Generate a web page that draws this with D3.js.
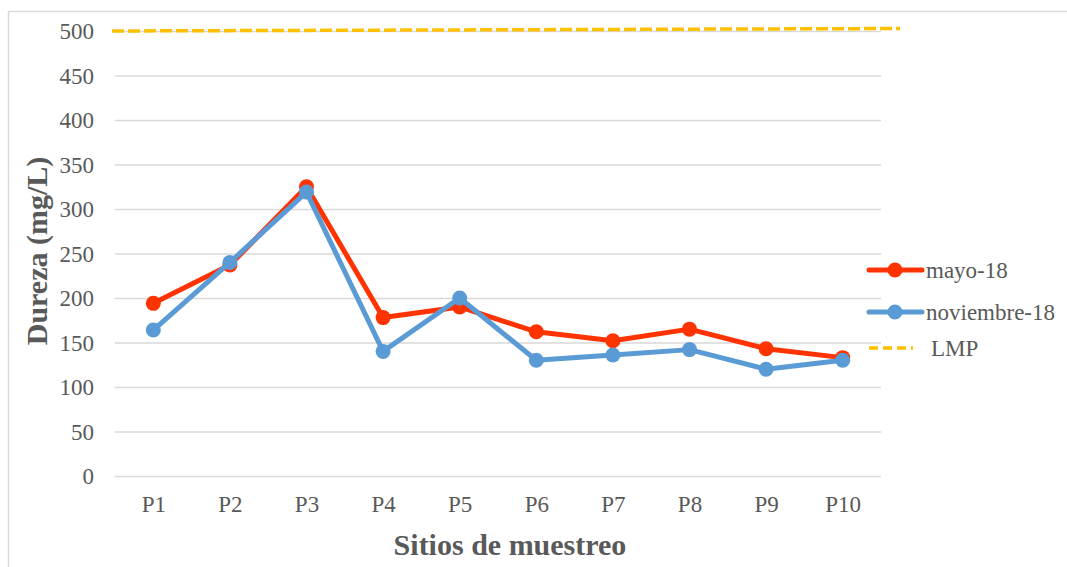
<!DOCTYPE html>
<html>
<head>
<meta charset="utf-8">
<script src="https://cdn.jsdelivr.net/npm/d3@7"></script>
<style>
  html, body { margin: 0; padding: 0; background: #fff; }
  svg { display: block; }
  svg text { font-family: "Liberation Serif", "Times New Roman", Times, serif !important; }
</style>
</head>
<body>
<svg id="chart" width="1067" height="567"></svg>
<script>
// Sampling sites and hardness (mg/L) per campaign
const sites = ["P1", "P2", "P3", "P4", "P5", "P6", "P7", "P8", "P9", "P10"];
const mayo18 = [194, 237, 325, 178, 190, 162, 152, 165, 143, 133];
const noviembre18 = [164, 240, 319, 140, 200, 130, 136, 142, 120, 130];
const lmpValue = 500;
const yTicks = [0, 50, 100, 150, 200, 250, 300, 350, 400, 450, 500];

const seriesList = [
  { name: "mayo-18", values: mayo18, color: "#FF3300" },
  { name: "noviembre-18", values: noviembre18, color: "#5B9BD5" }
];

const FONT = "'Liberation Serif', 'Times New Roman', serif";
const svg = d3.select("#chart").attr("font-family", FONT);
const W = 1067, H = 567;
const plot = { left: 115, right: 881, top: 31, bottom: 476 };

// Chart frame
svg.append("path")
  .attr("d", `M8.5,${H} L8.5,11.5 L${W},11.5`)
  .attr("fill", "none")
  .attr("stroke", "#d9d9d9")
  .attr("stroke-width", 1.5);

const x = d3.scalePoint().domain(sites).range([plot.left, plot.right]).padding(0.5);
const y = d3.scaleLinear().domain([0, 500]).range([plot.bottom, plot.top]);

// Gridlines and y labels
const yAxis = d3.axisLeft(y).tickValues(yTicks).tickSize(-(plot.right - plot.left)).tickPadding(21);
const gy = svg.append("g").attr("transform", `translate(${plot.left},0)`).call(yAxis)
  .attr("font-family", FONT).attr("font-size", 23);
gy.select(".domain").remove();
gy.selectAll(".tick line").attr("stroke", "#d9d9d9").attr("stroke-width", 1.5);
gy.selectAll(".tick text")
  .attr("fill", "#595959")
  .attr("dy", "0.34em");

// x labels
const xAxis = d3.axisBottom(x).tickSize(0).tickPadding(35.5);
const gx = svg.append("g").attr("transform", `translate(0,${plot.bottom})`).call(xAxis)
  .attr("font-family", FONT).attr("font-size", 23);
gx.select(".domain").remove();
gx.selectAll(".tick text")
  .attr("fill", "#595959")
  .attr("dy", 0);

// Limit (LMP) dashed line
svg.append("line")
  .attr("x1", plot.left - 3).attr("x2", 900)
  .attr("y1", y(lmpValue)).attr("y2", y(lmpValue) - 2.5)
  .attr("stroke", "#FFC000")
  .attr("stroke-width", 3.5)
  .attr("stroke-dasharray", "12,4");

// Series lines with markers
const line = d3.line().x((d, i) => x(sites[i])).y(d => y(d));
seriesList.forEach(s => {
  svg.append("path")
    .datum(s.values)
    .attr("d", line)
    .attr("fill", "none")
    .attr("stroke", s.color)
    .attr("stroke-width", 5)
    .attr("stroke-linejoin", "round");
  svg.append("g").selectAll("circle")
    .data(s.values)
    .join("circle")
    .attr("cx", (d, i) => x(sites[i]))
    .attr("cy", d => y(d))
    .attr("r", 7.5)
    .attr("fill", s.color);
});

// Legend
const legend = svg.append("g").attr("font-size", 23);
const legendRows = [
  { name: "mayo-18", color: "#FF3300", y: 270 },
  { name: "noviembre-18", color: "#5B9BD5", y: 312 }
];
legendRows.forEach(r => {
  legend.append("line")
    .attr("x1", 869).attr("x2", 922)
    .attr("y1", r.y).attr("y2", r.y)
    .attr("stroke", r.color).attr("stroke-width", 5).attr("stroke-linecap", "round");
  legend.append("circle").attr("cx", 895).attr("cy", r.y).attr("r", 7.5).attr("fill", r.color);
  legend.append("text")
    .attr("x", 926).attr("y", r.y)
    .attr("dy", "0.34em")
    .attr("fill", "#595959")
    .text(r.name);
});
legend.append("line")
  .attr("x1", 869).attr("x2", 913)
  .attr("y1", 348).attr("y2", 348)
  .attr("stroke", "#FFC000").attr("stroke-width", 3.5)
  .attr("stroke-dasharray", "9,5");
legend.append("text")
  .attr("x", 931).attr("y", 348)
  .attr("dy", "0.34em")
  .attr("fill", "#595959")
  .text("LMP");

// Axis titles
svg.append("text")
  .attr("x", 510).attr("y", 555)
  .attr("text-anchor", "middle")
  .attr("fill", "#595959")
  .attr("font-size", 30)
  .attr("font-weight", "bold")
  .text("Sitios de muestreo");

svg.append("text")
  .attr("transform", `translate(47,251) rotate(-90)`)
  .attr("text-anchor", "middle")
  .attr("fill", "#595959")
  .attr("font-size", 30)
  .attr("font-weight", "bold")
  .text("Dureza (mg/L)");
</script>
</body>
</html>
